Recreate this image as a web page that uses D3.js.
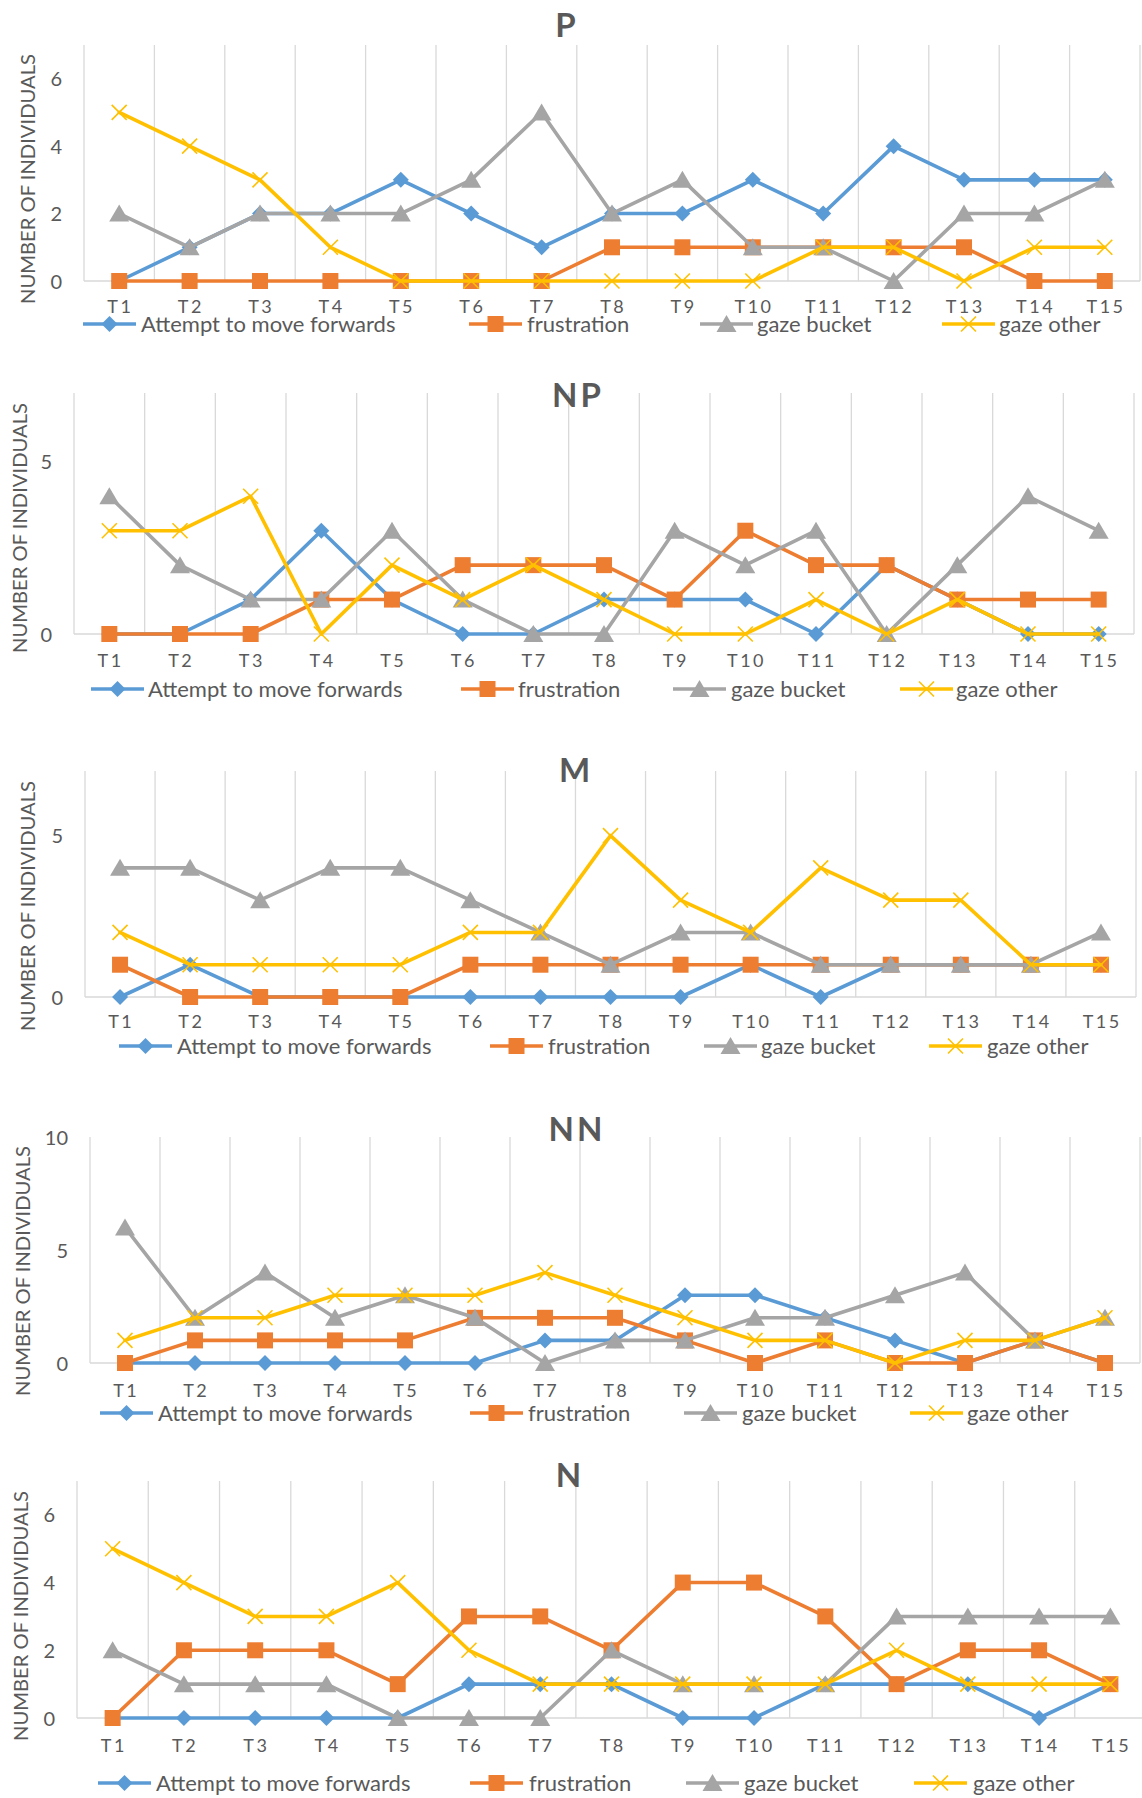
<!DOCTYPE html>
<html><head><meta charset="utf-8">
<script src="https://cdn.jsdelivr.net/npm/d3@7"></script>
<style>body{margin:0;background:#fff} svg{display:block}</style>
</head><body>
<svg id="c" width="1142" height="1798"></svg>
<script>
// ---------- DATA ----------
const categories = ["T1","T2","T3","T4","T5","T6","T7","T8","T9","T10","T11","T12","T13","T14","T15"];
const seriesNames = ["Attempt to move forwards","frustration","gaze bucket","gaze other"];

const P_attempt     = [0,1,2,2,3,2,1,2,2,3,2,4,3,3,3];
const P_frustration = [0,0,0,0,0,0,0,1,1,1,1,1,1,0,0];
const P_gazeBucket  = [2,1,2,2,2,3,5,2,3,1,1,0,2,2,3];
const P_gazeOther   = [5,4,3,1,0,0,0,0,0,0,1,1,0,1,1];
const P_yTicks = [0,2,4,6];

const NP_attempt     = [0,0,1,3,1,0,0,1,1,1,0,2,1,0,0];
const NP_frustration = [0,0,0,1,1,2,2,2,1,3,2,2,1,1,1];
const NP_gazeBucket  = [4,2,1,1,3,1,0,0,3,2,3,0,2,4,3];
const NP_gazeOther   = [3,3,4,0,2,1,2,1,0,0,1,0,1,0,0];
const NP_yTicks = [0,5];

const M_attempt     = [0,1,0,0,0,0,0,0,0,1,0,1,1,1,1];
const M_frustration = [1,0,0,0,0,1,1,1,1,1,1,1,1,1,1];
const M_gazeBucket  = [4,4,3,4,4,3,2,1,2,2,1,1,1,1,2];
const M_gazeOther   = [2,1,1,1,1,2,2,5,3,2,4,3,3,1,1];
const M_yTicks = [0,5];

const NN_attempt     = [0,0,0,0,0,0,1,1,3,3,2,1,0,1,0];
const NN_frustration = [0,1,1,1,1,2,2,2,1,0,1,0,0,1,0];
const NN_gazeBucket  = [6,2,4,2,3,2,0,1,1,2,2,3,4,1,2];
const NN_gazeOther   = [1,2,2,3,3,3,4,3,2,1,1,0,1,1,2];
const NN_yTicks = [0,5,10];

const N_attempt     = [0,0,0,0,0,1,1,1,0,0,1,1,1,0,1];
const N_frustration = [0,2,2,2,1,3,3,2,4,4,3,1,2,2,1];
const N_gazeBucket  = [2,1,1,1,0,0,0,2,1,1,1,3,3,3,3];
const N_gazeOther   = [5,4,3,3,4,2,1,1,1,1,1,2,1,1,1];
const N_yTicks = [0,2,4,6];

const panels = [
  {title:"P",  yMax:7,  yTicks:P_yTicks,  series:[P_attempt,P_frustration,P_gazeBucket,P_gazeOther]},
  {title:"NP", yMax:7,  yTicks:NP_yTicks, series:[NP_attempt,NP_frustration,NP_gazeBucket,NP_gazeOther]},
  {title:"M",  yMax:7,  yTicks:M_yTicks,  series:[M_attempt,M_frustration,M_gazeBucket,M_gazeOther]},
  {title:"NN", yMax:10, yTicks:NN_yTicks, series:[NN_attempt,NN_frustration,NN_gazeBucket,NN_gazeOther]},
  {title:"N",  yMax:7,  yTicks:N_yTicks,  series:[N_attempt,N_frustration,N_gazeBucket,N_gazeOther]}
];

// ---------- LAYOUT / STYLE ----------
const colors = ["#5B9BD5","#ED7D31","#A5A5A5","#FFC000"];
const markerTypes = ["diamond","square","triangle","x"];
const layout = [
  {left:84, right:1140, top:45,  base:281,  titleX:567, titleY:25,   yTitleX:28, yTitleY:179,  xLabY:307,  legY:324,  leg:[[83,141],[469,527],[700,757],[942,999]]},
  {left:74, right:1134, top:393, base:634,  titleX:578, titleY:395,  yTitleX:20, yTitleY:528,  xLabY:661,  legY:689,  leg:[[91,148],[461,518],[673,731],[900,956]]},
  {left:85, right:1136, top:771, base:997,  titleX:576, titleY:770,  yTitleX:28, yTitleY:906,  xLabY:1022, legY:1046, leg:[[119,177],[490,548],[704,761],[929,987]]},
  {left:90, right:1140, top:1137,base:1363, titleX:577, titleY:1129, yTitleX:23, yTitleY:1271, xLabY:1391, legY:1413, leg:[[100,158],[470,528],[684,742],[910,967]]},
  {left:77, right:1146, top:1481,base:1718, titleX:570, titleY:1475, yTitleX:21, yTitleY:1616, xLabY:1746, legY:1783, leg:[[98,156],[470,529],[686,744],[914,973]]}
];
const FONT = "Lato, 'Open Sans', 'DejaVu Sans', sans-serif";
const TXT = "#595959";
const GRID = "#D9D9D9";
const LW = 3.6;

const svg = d3.select("#c");
svg.append("rect").attr("width",1142).attr("height",1798).attr("fill","#fff");

function drawMarker(g, type, color, x, y) {
  if (type === "diamond") {
    const s = 8;
    g.append("path").attr("d",`M${x},${y-s}L${x+s},${y}L${x},${y+s}L${x-s},${y}Z`).attr("fill",color);
  } else if (type === "square") {
    const s = 8;
    g.append("rect").attr("x",x-s).attr("y",y-s).attr("width",2*s).attr("height",2*s).attr("fill",color);
  } else if (type === "triangle") {
    g.append("path").attr("d",`M${x},${y-9}L${x+10},${y+8}L${x-10},${y+8}Z`).attr("fill",color);
  } else {
    const s = 7.5;
    g.append("path").attr("d",`M${x-s},${y-s}L${x+s},${y+s}M${x-s},${y+s}L${x+s},${y-s}`)
      .attr("stroke",color).attr("stroke-width",1.6).attr("fill","none");
  }
}

panels.forEach((p, i) => {
  const L = layout[i];
  const g = svg.append("g");
  const x = d3.scaleBand().domain(categories).range([L.left, L.right]).padding(0);
  const y = d3.scaleLinear().domain([0, p.yMax]).range([L.base, L.top]);

  // vertical gridlines at category boundaries
  const bounds = categories.map(c => x(c)).concat([L.right]);
  g.selectAll(".vg").data(bounds).enter().append("line")
    .attr("x1",d=>d).attr("x2",d=>d).attr("y1",L.top).attr("y2",L.base)
    .attr("stroke",GRID).attr("stroke-width",1.3);
  // baseline
  g.append("line").attr("x1",L.left).attr("x2",L.right).attr("y1",L.base).attr("y2",L.base)
    .attr("stroke",GRID).attr("stroke-width",1.3);

  // y axis labels
  const ya = g.append("g").attr("transform",`translate(${L.left-22},0)`)
    .call(d3.axisLeft(y).tickValues(p.yTicks).tickSize(0).tickPadding(0).tickFormat(d3.format("d")));
  ya.select(".domain").remove();
  ya.selectAll("text").attr("font-family",FONT).attr("font-size",20).attr("fill",TXT).attr("dy","0.35em");

  // x axis labels
  const xa = g.append("g").attr("transform",`translate(0,${L.xLabY})`)
    .call(d3.axisBottom(x).tickSize(0).tickPadding(0));
  xa.select(".domain").remove();
  xa.selectAll("text").attr("font-family",FONT).attr("font-size",18).attr("fill",TXT)
    .attr("dy","0.35em").attr("letter-spacing","2.5px").attr("dx","1.2px");

  // y axis title
  g.append("text").attr("transform",`translate(${L.yTitleX},${L.yTitleY}) rotate(-90)`)
    .attr("text-anchor","middle").attr("dy","0.35em")
    .attr("font-family",FONT).attr("font-size",20).attr("fill",TXT)
    .attr("textLength",250).attr("lengthAdjust","spacingAndGlyphs")
    .text("NUMBER OF INDIVIDUALS");

  // title
  g.append("text").attr("x",L.titleX).attr("y",L.titleY).attr("dy","0.35em")
    .attr("text-anchor","middle").attr("font-family",FONT).attr("font-weight","bold")
    .attr("font-size",33).attr("letter-spacing","3px").attr("fill",TXT).text(p.title);

  // series
  const line = d3.line().x((d,k)=>x(categories[k]) + x.bandwidth()/2).y(d=>y(d));
  p.series.forEach((vals, s) => {
    g.append("path").datum(vals).attr("d",line).attr("fill","none")
      .attr("stroke",colors[s]).attr("stroke-width",LW).attr("stroke-linejoin","round").attr("stroke-linecap","round");
    vals.forEach((v,k) => drawMarker(g, markerTypes[s], colors[s], x(categories[k]) + x.bandwidth()/2, y(v)));
  });

  // legend
  seriesNames.forEach((name, s) => {
    const [lx, tx] = L.leg[s];
    g.append("line").attr("x1",lx).attr("x2",lx+53).attr("y1",L.legY).attr("y2",L.legY)
      .attr("stroke",colors[s]).attr("stroke-width",LW);
    drawMarker(g, markerTypes[s], colors[s], lx+26.5, L.legY);
    g.append("text").attr("x",tx).attr("y",L.legY).attr("dy","0.35em")
      .attr("font-family",FONT).attr("font-size",22).attr("fill",TXT).text(name);
  });
});
</script>
</body></html>
